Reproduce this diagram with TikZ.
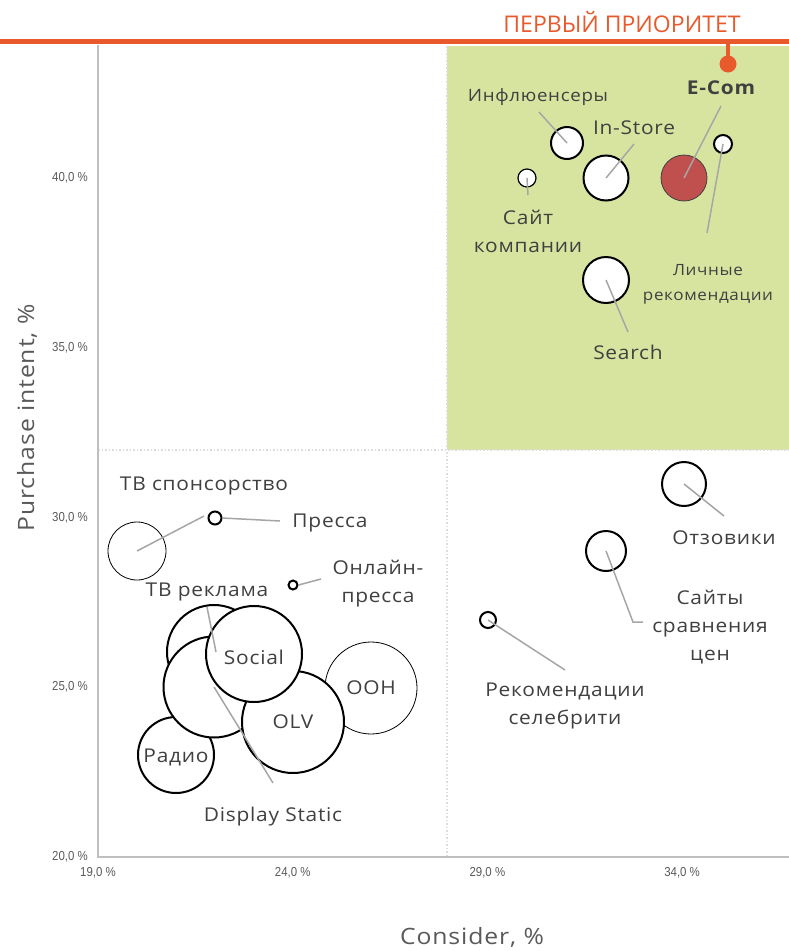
\documentclass[tikz,border=0pt]{standalone}
\usepackage{fontspec}
\setmainfont{Open Sans}
\newfontfamily\lblfont[FakeStretch=1.1, LetterSpace=4]{Open Sans}
\newfontfamily\tickfont[FakeStretch=0.88]{Liberation Sans}
\usetikzlibrary{positioning}

\definecolor{prio}{HTML}{E8592B}
\definecolor{zone}{HTML}{D7E4A0}
\definecolor{ecom}{HTML}{C0504D}
\definecolor{txt}{HTML}{404040}
\definecolor{lead}{HTML}{A6A6A6}
\definecolor{axisc}{HTML}{BFBFBF}
\definecolor{gridc}{HTML}{DDDDDD}
\definecolor{tickc}{HTML}{595959}

\begin{document}
\begin{tikzpicture}[x=1pt,y=-1pt]
		\tikzstyle{bubble} = [draw, line width=2, circle, fill=white, inner sep=0];
		\tikzstyle{thin_bubble} = [draw, line width=0.8, circle, fill=white, inner sep=0];
		\tikzstyle{lbl} = [text=txt, font=\lblfont\fontsize{19}{28}\selectfont, align=center, inner sep=0];
		\tikzstyle{leader} = [draw=lead, line width=1.5];
		\tikzstyle{tick_lbl} = [text=tickc, font=\tickfont\fontsize{13}{13}\selectfont, inner sep=0];
		\tikzstyle{ax_title} = [text=tickc, font=\lblfont\fontsize{22.5}{23}\selectfont, inner sep=0];

		\useasboundingbox (0,0) rectangle (789,951);

		% first priority zone
		\fill[zone] (447,46) rectangle (789,450);
		\draw[gridc, line width=1.5, dotted] (447,46) -- (447,857);
		\draw[gridc, line width=1.5, dotted] (98,450) -- (789,450);

		% axes
		\draw[axisc, line width=2] (98,45) -- (98,857) -- (789,857);
		\foreach \v [count=\i from 0] in {20,25,30,35,40}{%
			\node[tick_lbl, anchor=east] (ytick\i) at (88,857-\i*169.8) {\v,0 \%};
		}
		\foreach \v [count=\i from 0] in {19,24,29,34}{%
			\node[tick_lbl] (xtick\i) at (98+\i*194.7,873) {\v,0 \%};
		}
		\node[ax_title, rotate=90] (ytitle) at (27,418) {Purchase intent, \%};
		\node[ax_title] (xtitle) at (472,937) {Consider, \%};

		% header
		\draw[prio, line width=5] (0,41) -- (789,41);
		\node[text=prio, font=\fontsize{23}{23}\selectfont, inner sep=0] (prio_title) at (622,22) {ПЕРВЫЙ ПРИОРИТЕТ};
		\coordinate (prio_top) at (728,41);
		\node[circle, fill=prio, minimum size=17, inner sep=0] (prio_dot) at (728,64) {};
		\draw[prio, line width=4] (prio_top) -- (prio_dot.center);

		% bubbles, upper right
		\node[bubble, minimum size=32] (infl) at (567,143) {};
		\node[bubble, minimum size=45] (store) at (606,178) {};
		\node[thin_bubble, line width=1.2, minimum size=18] (site) at (527,178) {};
		\node[draw=txt, line width=0.8, circle, fill=ecom, inner sep=0, minimum size=46] (ecom) at (684,178) {};
		\node[bubble, minimum size=18] (pers) at (723,144) {};
		\node[bubble, minimum size=46] (srch) at (606,280) {};

		% bubbles, lower right
		\node[bubble, minimum size=44] (revw) at (684,484) {};
		\node[bubble, minimum size=40] (cmpr) at (606,551) {};
		\node[bubble, minimum size=16] (celeb) at (488,620) {};

		% bubbles, lower left
		\node[thin_bubble, minimum size=58] (tvsp) at (137,551) {};
		\node[bubble, minimum size=13] (press) at (215,518) {};
		\node[bubble, minimum size=9] (onpr) at (293,585) {};
		\node[bubble, minimum size=94] (tvad) at (214,652) {};
		\node[bubble, minimum size=76] (radio) at (176,755) {};
		\node[bubble, minimum size=101] (disp) at (214,687) {};
		\node[thin_bubble, minimum size=92] (ooh) at (371,688) {};
		\node[bubble, minimum size=102] (olv) at (293,722) {};
		\node[bubble, minimum size=96] (social) at (254,654) {};

		% labels
		\node[lbl, font=\lblfont\fontsize{17}{17}\selectfont] (infl_l) at (538,97) {Инфлюенсеры};
		\node[lbl] (store_l) at (634,128) {In-Store};
		\node[lbl] (site_l) at (528,231) {Сайт\\компании};
		\node[lbl, font=\lblfont\bfseries\fontsize{19}{19}\selectfont] (ecom_l) at (721,88) {E-Com};
		\node[lbl, font=\lblfont\fontsize{15.5}{25}\selectfont] (pers_l) at (708,284) {Личные\\рекомендации};
		\node[lbl] (srch_l) at (628,352) {Search};
		\node[lbl] (revw_l) at (724,538) {Отзовики};
		\node[lbl] (cmpr_l) at (710,627) {Сайты\\сравнения\\цен};
		\node[lbl] (celeb_l) at (565,706) {Рекомендации\\селебрити};
		\node[lbl] (tvsp_l) at (204,486) {ТВ спонсорство};
		\node[lbl] (press_l) at (330,523) {Пресса};
		\node[lbl] (onpr_l) at (378,584) {Онлайн-\\пресса};
		\node[lbl] (tvad_l) at (207,592) {ТВ реклама};
		\node[lbl] (disp_l) at (273,817) {Display Static};
		\node[lbl] (olv_l) at (293,722) {OLV};
		\node[lbl] (ooh_l) at (371,688) {OOH};
		\node[lbl] (social_l) at (254,657) {Social};
		\node[lbl] (radio_l) at (176,757) {Радио};

		% leader lines
		\coordinate (infl_e) at (539,112);
		\coordinate (store_e) at (634,144);
		\coordinate (site_e) at (528,195);
		\coordinate (ecom_e) at (721,106);
		\coordinate (pers_e) at (707,233);
		\coordinate (srch_e) at (628,332);
		\coordinate (revw_e) at (724,516);
		\coordinate (cmpr_k) at (633,622);
		\coordinate (cmpr_e) at (643,622);
		\coordinate (celeb_e) at (565,670);
		\coordinate (tvsp_e) at (204,516);
		\coordinate (press_e) at (280,521);
		\coordinate (onpr_e) at (321,579);
		\coordinate (tvad_e) at (207,607);
		\coordinate (disp_e) at (273,783);

		\draw[leader] (infl.center) -- (infl_e);
		\draw[leader] (store.center) -- (store_e);
		\draw[leader] (site.center) -- (site_e);
		\draw[leader] (ecom.center) -- (ecom_e);
		\draw[leader] (pers.center) -- (pers_e);
		\draw[leader] (srch.center) -- (srch_e);
		\draw[leader] (revw.center) -- (revw_e);
		\draw[leader] (cmpr.center) -- (cmpr_k) -- (cmpr_e);
		\draw[leader] (celeb.center) -- (celeb_e);
		\draw[leader] (tvsp.center) -- (tvsp_e);
		\draw[leader] (press.east) -- (press_e);
		\draw[leader] (onpr.east) -- (onpr_e);
		\draw[leader] (tvad_e) -- (216,652);
		\draw[leader] (disp.center) -- (disp_e);
	\end{tikzpicture}
\end{document}
